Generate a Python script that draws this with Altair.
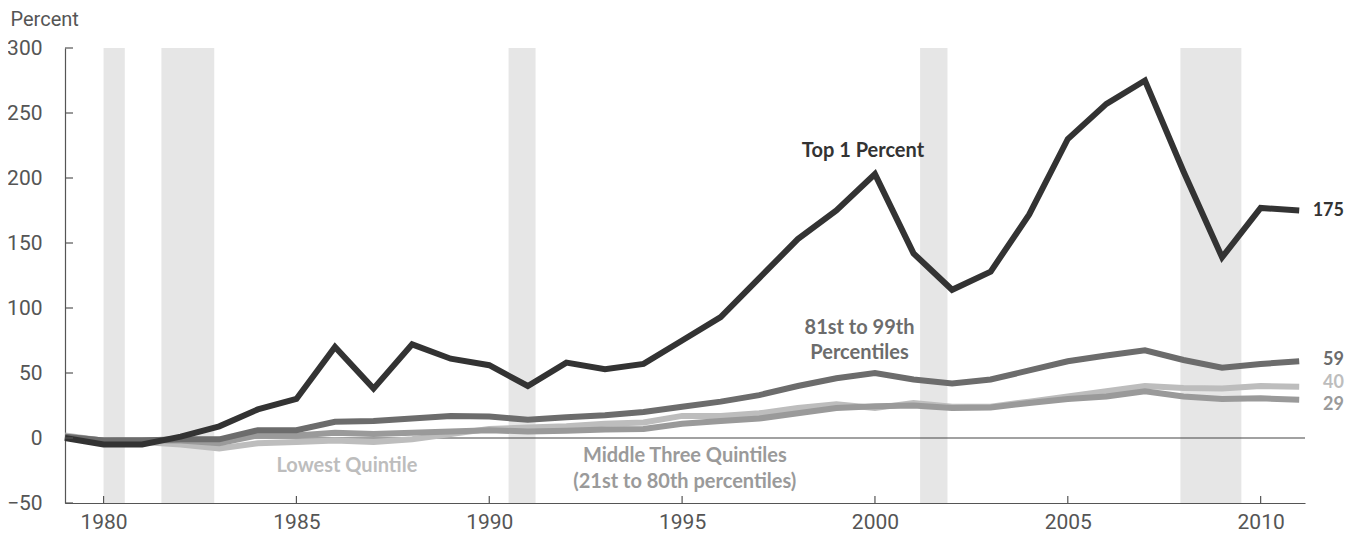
import altair as alt
import pandas as pd

years = list(range(1979, 2012))
top1 = [0, -5, -5, 1, 9, 22, 30, 70, 38, 72, 61, 56, 40, 58, 53, 57, 75, 93, 123, 153, 175, 203,
        142, 114, 128, 172, 230, 257, 275, 205, 139, 177, 175]
p81_99 = [1, -2, -2, -1, -1, 6, 6, 12.5, 13, 15, 17, 16.5, 14, 16, 17.5, 20, 24, 28, 33, 40, 46, 50,
          45, 42, 45, 52, 59, 63.5, 67.5, 60, 54, 57, 59]
middle3 = [1, -2, -2, -2, -4, 2, 2, 4, 3, 4, 5, 6, 5, 5.5, 6.5, 7, 11, 13, 15, 19, 23, 24.5,
           25, 23, 23.5, 27, 30, 32, 36, 32, 30, 30.5, 29.5]
lowest = [2, -2, -3, -5, -8, -4, -3, -2, -3, -1, 3, 7, 8, 9, 11, 12, 17, 17, 19, 23, 26, 23,
          27, 24, 24, 28, 32, 36, 40, 38.5, 38, 40, 39.5]

series_names = ["Lowest Quintile", "Middle Three Quintiles", "81st to 99th Percentiles", "Top 1 Percent"]
series_values = [lowest, middle3, p81_99, top1]
series_colors = ["#bdbdbd", "#9a9a9a", "#6c6c6c", "#333333"]

rec_start = [1980.0, 1981.5, 1990.5, 2001.17, 2007.92]
rec_end = [1980.55, 1982.87, 1991.2, 2001.88, 2009.5]

x_ticks = [1980, 1985, 1990, 1995, 2000, 2005, 2010]
y_ticks = [-50, 0, 50, 100, 150, 200, 250, 300]

ann_text = ["Top 1 Percent", "81st to 99th", "Percentiles", "Lowest Quintile",
            "Middle Three Quintiles", "(21st to 80th percentiles)"]
ann_x = [1999.69, 1999.6, 1999.6, 1986.31, 1995.07, 1995.07]
ann_y = [216.5, 80.3, 60.5, -26.2, -18.5, -38.2]
ann_color = ["#333333", "#6c6c6c", "#6c6c6c", "#bdbdbd", "#9a9a9a", "#9a9a9a"]

end_text = ["175", "59", "40", "29"]
end_y = [175, 59.8, 42.6, 25.7]
end_color = ["#333333", "#6c6c6c", "#bdbdbd", "#9a9a9a"]
end_x = 2012.16

XDOM = [1979, 2011.15]
YDOM = [-50, 300]
W, H = 1240, 455
TICKFONT = "Roboto"
ANNFONT = "Lato"

rows = []
for name, vals in zip(series_names, series_values):
    for yr, v in zip(years, vals):
        rows.append({"year": yr, "value": v, "series": name})
df = pd.DataFrame(rows)

xs = alt.Scale(domain=XDOM, nice=False, zero=False)
ys = alt.Scale(domain=YDOM, nice=False, zero=False)

rec = alt.Chart(pd.DataFrame({"s": rec_start, "e": rec_end})).mark_rect(color="#e6e6e6").encode(
    x=alt.X("s:Q", scale=xs, axis=alt.Axis(values=x_ticks, format="d", ticks=False, grid=False,
                                           domainColor="#555555", domainWidth=1.2,
                                           labelFont=TICKFONT, labelFontSize=21, labelColor="#555555",
                                           labelPadding=8, title=None)),
    x2="e:Q",
    y=alt.datum(YDOM[0], scale=ys, axis=alt.Axis(values=y_ticks, ticks=False, grid=False,
                                                 domainColor="#555555", domainWidth=1.2,
                                                 labelFont=TICKFONT, labelFontSize=21,
                                                 labelColor="#555555", labelPadding=23,
                                                 title="Percent", titleAngle=0, titleAlign="left",
                                                 titleBaseline="alphabetic", titleX=-55, titleY=-23,
                                                 titleFont=TICKFONT, titleFontSize=20,
                                                 titleFontWeight="normal", titleColor="#555555")),
    y2=alt.datum(YDOM[1]),
)

zero = alt.Chart(pd.DataFrame({"z": [0]})).mark_rule(color="#444444", strokeWidth=1.2).encode(
    y=alt.Y("z:Q", scale=ys), x=alt.datum(XDOM[0]), x2=alt.datum(XDOM[1]))

lines = alt.Chart(df).mark_line(strokeWidth=6, strokeJoin="miter").encode(
    x=alt.X("year:Q", scale=xs),
    y=alt.Y("value:Q", scale=ys),
    color=alt.Color("series:N", scale=alt.Scale(domain=series_names, range=series_colors), legend=None),
    order=alt.Order("year:Q"),
)

yt = alt.Chart(pd.DataFrame({"v": y_ticks})).mark_rule(color="#555555", strokeWidth=1.2).encode(
    y=alt.Y("v:Q", scale=ys), x=alt.value(0), x2=alt.value(8))
xt = alt.Chart(pd.DataFrame({"v": x_ticks})).mark_rule(color="#555555", strokeWidth=1.2).encode(
    x=alt.X("v:Q", scale=xs), y=alt.value(H), y2=alt.value(H - 7))

ann = alt.Chart(pd.DataFrame({"t": ann_text, "x": ann_x, "y": ann_y, "c": ann_color})).mark_text(
    font=ANNFONT, fontSize=20, fontWeight="bold", align="center", baseline="alphabetic").encode(
    x=alt.X("x:Q", scale=xs), y=alt.Y("y:Q", scale=ys), text="t:N", color=alt.Color("c:N", scale=None))

endl = alt.Chart(pd.DataFrame({"t": end_text, "y": end_y, "c": end_color})).mark_text(
    font=ANNFONT, fontSize=18, fontWeight="bold", align="right", baseline="middle").encode(
    x=alt.datum(end_x, scale=xs), y=alt.Y("y:Q", scale=ys), text="t:N", color=alt.Color("c:N", scale=None))

chart = alt.layer(rec, zero, lines, yt, xt, ann, endl).properties(
    width=W, height=H,
    autosize=alt.AutoSizeParams(type="none"),
    padding={"left": 57, "top": 40, "right": 41, "bottom": 30},
).configure_view(stroke=None)

chart.save("out.html", embed_options={"renderer": "svg", "actions": False})
